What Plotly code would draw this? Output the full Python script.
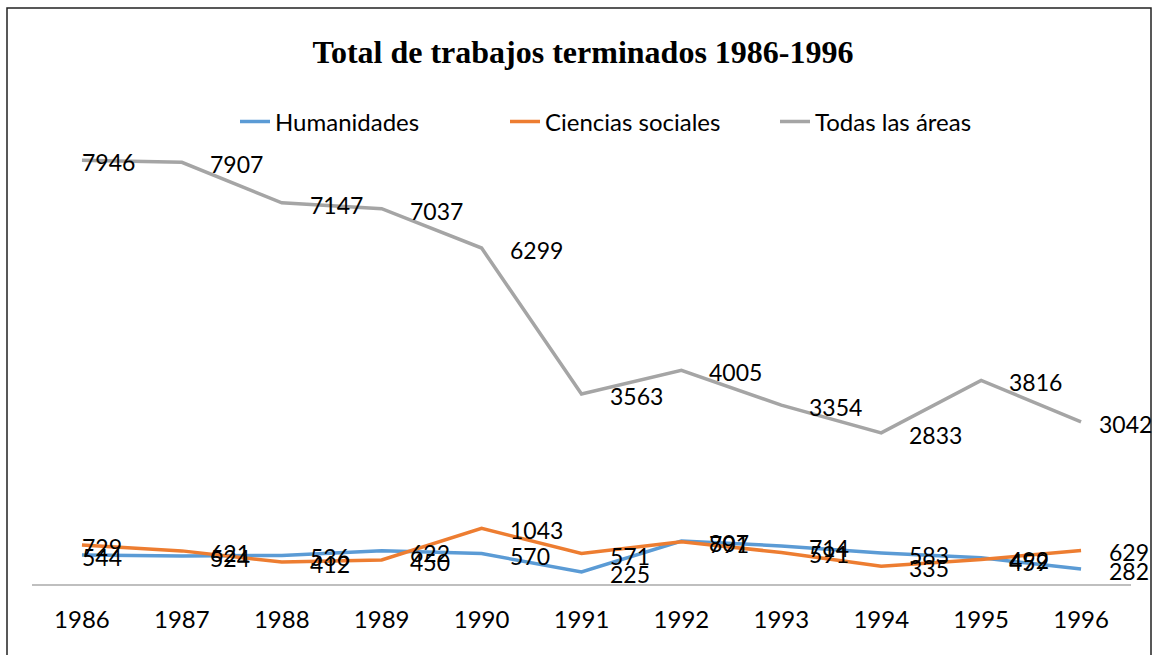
import plotly.graph_objects as go

years = ["1986", "1987", "1988", "1989", "1990", "1991", "1992", "1993", "1994", "1995", "1996"]
humanidades = [544, 524, 536, 622, 570, 225, 807, 714, 583, 492, 282]
ciencias = [729, 621, 412, 450, 1043, 571, 791, 591, 335, 459, 629]
todas = [7946, 7907, 7147, 7037, 6299, 3563, 4005, 3354, 2833, 3816, 3042]

series = [
    ("Humanidades", humanidades, "#5B9BD5"),
    ("Ciencias sociales", ciencias, "#ED7D31"),
    ("Todas las áreas", todas, "#A5A5A5"),
]

W, H = 1157, 655
OFF = 0  # body margin removed via post_script
plot_left, plot_right, plot_top, plot_bottom = 32, 1131, 104, 584.5
L = plot_left - OFF
R = W - (plot_right - OFF)
T = plot_top - OFF
B = H - (plot_bottom - OFF)
pw, ph = W - L - R, H - T - B

font_family = "Lato"
fig = go.Figure()
for name, vals, color in series:
    fig.add_trace(go.Scatter(x=years, y=vals, mode="lines", name=name,
                             line=dict(color=color, width=3.5)))

annotations = []
for name, vals, color in series:
    n = len(vals)
    for i, v in enumerate(vals):
        xs = 26
        if i == 0:
            xs = -2
        if name == "Todas las áreas" and i == n - 1:
            xs = 16
        annotations.append(dict(x=i, y=v, xref="x", yref="y", text=str(v), showarrow=False,
                                xanchor="left", yanchor="middle", xshift=xs, yshift=-2,
                                font=dict(family=font_family, size=23, color="#000000")))

def px2x(px):
    return (px - OFF - L) / pw

def py2y(py):
    return (H - B - (py - OFF)) / ph

fig.update_layout(
    width=W, height=H,
    margin=dict(l=L, r=R, t=T, b=B),
    paper_bgcolor="white", plot_bgcolor="white",
    title=dict(text="<b>Total de trabajos terminados 1986-1996</b>",
               x=px2x(583), xref="paper", xanchor="center",
               y=1 - (52 - OFF) / H, yref="container", yanchor="middle",
               font=dict(family="Liberation Serif", size=32, color="#000000")),
    showlegend=True,
    legend=dict(orientation="h", x=px2x(640), xanchor="center", y=py2y(122), yanchor="middle",
                font=dict(family=font_family, size=24, color="#000000"),
                entrywidth=225, entrywidthmode="pixels",
                bgcolor="rgba(0,0,0,0)"),
    annotations=annotations,
    shapes=[dict(type="rect", xref="paper", yref="paper",
                 x0=px2x(7), x1=px2x(1151), y0=py2y(680), y1=py2y(8),
                 line=dict(color="#222222", width=1.5), fillcolor="rgba(0,0,0,0)", layer="above")],
)
fig.update_xaxes(type="category", range=[-0.5, 10.5], showgrid=False, zeroline=False,
                 showline=True, linecolor="#BFBFBF", linewidth=1.5,
                 ticks="", ticklabelstandoff=13,
                 tickfont=dict(family=font_family, size=24, color="#000000"))
fig.update_yaxes(range=[0, 9000], showgrid=False, zeroline=False, showline=False,
                 showticklabels=False, ticks="")

fig.write_html("out.html", config={"displayModeBar": False},
               post_script="document.body.style.margin='0';document.body.style.overflow='hidden';")
